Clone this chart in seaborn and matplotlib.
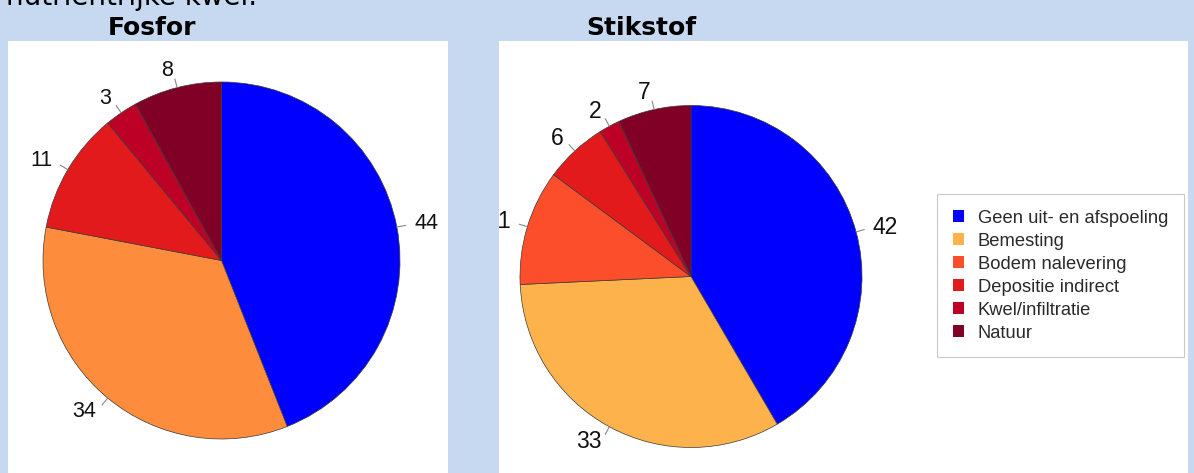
import numpy as np
import matplotlib
matplotlib.use("Agg")
import matplotlib.pyplot as plt
from matplotlib.patches import Patch
import seaborn as sns

# data
fosfor_names = ["Geen uit- en afspoeling", "Bemesting", "Depositie indirect",
                "Kwel/infiltratie", "Natuur"]
fosfor_values = [44, 34, 11, 3, 8]
fosfor_colors = ["#0000FF", "#FD8D3C", "#E31A1C", "#BD0026", "#800026"]

stikstof_names = ["Geen uit- en afspoeling", "Bemesting", "Bodem nalevering",
                  "Depositie indirect", "Kwel/infiltratie", "Natuur"]
stikstof_values = [42, 33, 11, 6, 2, 7]
stikstof_colors = ["#0000FF", "#FEB24C", "#FC4E2A", "#E31A1C", "#BD0026", "#800026"]

sns.set_style("white")
plt.rcParams['font.family'] = ['Liberation Sans', 'DejaVu Sans']
plt.rcParams['text.color'] = 'black'

W, H = 1194, 473
bg = "#C6D9F0"
fig = plt.figure(figsize=(W / 100, H / 100), dpi=100, facecolor=bg)


def panel(x0, x1, y0):
    # white panel, data coords = pixels (y up)
    ax = fig.add_axes([x0 / W, 0, (x1 - x0) / W, (H - y0) / H])
    ax.set_facecolor("white")
    for s in ax.spines.values():
        s.set_visible(False)
    return ax, (x0, x1), (0, H - y0)


def draw_pie(ax, xl, yl, values, colors, cx, cy, r, fs):
    wedges, _ = ax.pie(values, colors=colors, startangle=90, counterclock=False,
                       center=(cx, H - cy), radius=r, frame=True,
                       wedgeprops=dict(edgecolor="#3a3a3a", linewidth=0.5))
    for w, v in zip(wedges, values):
        a = np.deg2rad((w.theta1 + w.theta2) / 2)
        c, s = np.cos(a), np.sin(a)
        x0, y0 = w.center
        ax.plot([x0 + r * c, x0 + 1.05 * r * c], [y0 + r * s, y0 + 1.05 * r * s],
                color="#888888", lw=0.8)
        ax.text(x0 + 1.1 * r * c, y0 + 1.1 * r * s, str(v), fontsize=fs,
                ha="left" if c > 0 else "right", va="center", color="#111111",
                clip_on=True)
    ax.set_xlim(*xl)
    ax.set_ylim(*yl)
    ax.set_aspect("auto")
    ax.set_xticks([])
    ax.set_yticks([])
    return wedges


ax1, xl1, yl1 = panel(8, 448, 41)
draw_pie(ax1, xl1, yl1, fosfor_values, fosfor_colors, 221.5, 260.5, 178.5, 15.5)

ax2, xl2, yl2 = panel(499, 1188, 41)
wedges2 = draw_pie(ax2, xl2, yl2, stikstof_values, stikstof_colors, 691, 276.5, 171, 16.5)

handles = [Patch(facecolor=c, edgecolor="none") for c in stikstof_colors]
leg = fig.legend(handles, stikstof_names, loc="upper left",
                 bbox_to_anchor=(937 / W, 1 - 194 / H), fontsize=13.2,
                 frameon=True, fancybox=False, edgecolor="#BBBBBB",
                 handlelength=0.62, handleheight=0.62, handletextpad=0.75,
                 labelspacing=0.33, borderpad=0.85, borderaxespad=0)
leg.get_frame().set_linewidth(0.8)
for t in leg.get_texts():
    t.set_color("#2a2a2a")

# titles
fig.text(152 / W, 1 - 35 / H, "Fosfor", ha="center", va="baseline",
         fontsize=18, fontweight="bold", family="DejaVu Sans")
fig.text(641 / W, 1 - 35 / H, "Stikstof", ha="center", va="baseline",
         fontsize=18, fontweight="bold", family="DejaVu Sans")
# line of body text above, cut off by the top edge as in the source
fig.text(6 / W, 1 - 5 / H, "nutriëntrijke kwel.", ha="left", va="baseline",
         fontsize=20, family="DejaVu Sans")

fig.savefig("out.png", dpi=100, facecolor=bg)
